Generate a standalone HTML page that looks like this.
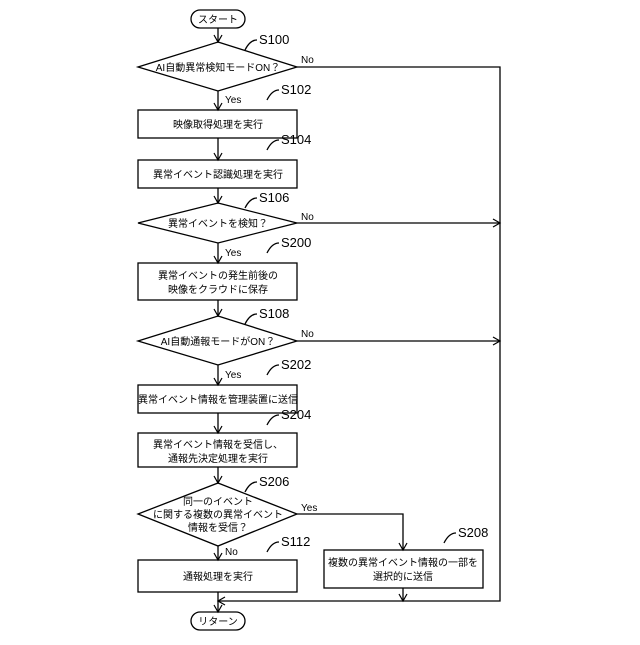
<!DOCTYPE html>
<html><head><meta charset="utf-8"><style>body{margin:0;background:#fff}</style></head><body>
<svg width="640" height="640" viewBox="0 0 640 640" xmlns="http://www.w3.org/2000/svg" font-family="'Liberation Sans','Noto Sans CJK JP',sans-serif">
<defs><marker id="a" markerWidth="10" markerHeight="10" refX="8" refY="5" orient="auto" markerUnits="userSpaceOnUse"><path d="M1,1 L8,5 L1,9" fill="none" stroke="#000" stroke-width="1.2"/></marker></defs>
<g fill="none" stroke="#000" stroke-width="1.3">
<rect x="191" y="10" width="54" height="18" rx="9"/>
<rect x="191" y="612" width="54" height="18" rx="9"/>
<polygon points="218,42 297,67 218,91 138,67"/>
<rect x="138" y="110" width="159" height="28"/>
<rect x="138" y="160" width="159" height="28"/>
<polygon points="218,203 297,223 218,243 138,223"/>
<rect x="138" y="263" width="159" height="37"/>
<polygon points="218,316 297,341 218,365 138,341"/>
<rect x="138" y="385" width="159" height="28"/>
<rect x="138" y="433" width="159" height="34"/>
<polygon points="218,483 297,514 218,546 138,514"/>
<rect x="138" y="560" width="159" height="32"/>
<rect x="324" y="550" width="159" height="38"/>
<path d="M218,28V42" marker-end="url(#a)"/>
<path d="M218,91V110" marker-end="url(#a)"/>
<path d="M218,138V160" marker-end="url(#a)"/>
<path d="M218,188V203" marker-end="url(#a)"/>
<path d="M218,243V263" marker-end="url(#a)"/>
<path d="M218,300V316" marker-end="url(#a)"/>
<path d="M218,365V385" marker-end="url(#a)"/>
<path d="M218,413V433" marker-end="url(#a)"/>
<path d="M218,467V483" marker-end="url(#a)"/>
<path d="M218,546V560" marker-end="url(#a)"/>
<path d="M218,592V612" marker-end="url(#a)"/>
<path d="M297,67H500V601H218" marker-end="url(#a)"/>
<path d="M297,223H500" marker-end="url(#a)"/>
<path d="M297,341H500" marker-end="url(#a)"/>
<path d="M297,514H403V550" marker-end="url(#a)"/>
<path d="M403,588V601" marker-end="url(#a)"/>
<path d="M245,50q5,-10 12,-10"/><path d="M267,100q5,-10 12,-10"/><path d="M267,150q5,-10 12,-10"/>
<path d="M245,208q5,-10 12,-10"/><path d="M267,253q5,-10 12,-10"/><path d="M245,324q5,-10 12,-10"/>
<path d="M267,375q5,-10 12,-10"/><path d="M267,425q5,-10 12,-10"/><path d="M245,492q5,-10 12,-10"/>
<path d="M267,552q5,-10 12,-10"/><path d="M444,543q5,-10 12,-10"/>
</g>
<g font-size="10" text-anchor="middle" fill="#000">
<text x="218" y="23">スタート</text>
<text x="218" y="625">リターン</text>
<text x="218" y="71">AI自動異常検知モードON？</text>
<text x="218" y="128">映像取得処理を実行</text>
<text x="218" y="178">異常イベント認識処理を実行</text>
<text x="218" y="227">異常イベントを検知？</text>
<text x="218" y="279">異常イベントの発生前後の</text>
<text x="218" y="293">映像をクラウドに保存</text>
<text x="218" y="345">AI自動通報モードがON？</text>
<text x="218" y="403">異常イベント情報を管理装置に送信</text>
<text x="218" y="448">異常イベント情報を受信し、</text>
<text x="218" y="462">通報先決定処理を実行</text>
<text x="218" y="505">同一のイベント</text>
<text x="218" y="518">に関する複数の異常イベント</text>
<text x="218" y="531">情報を受信？</text>
<text x="218" y="580">通報処理を実行</text>
<text x="403" y="566">複数の異常イベント情報の一部を</text>
<text x="403" y="580">選択的に送信</text>
</g>
<g font-size="10" fill="#000">
<text x="301" y="63">No</text><text x="301" y="220">No</text><text x="301" y="337">No</text>
<text x="225" y="103">Yes</text><text x="225" y="256">Yes</text><text x="225" y="378">Yes</text>
<text x="301" y="511">Yes</text><text x="225" y="555">No</text>
</g>
<g font-size="13" fill="#000">
<text x="259" y="44">S100</text><text x="281" y="94">S102</text><text x="281" y="144">S104</text>
<text x="259" y="202">S106</text><text x="281" y="247">S200</text><text x="259" y="318">S108</text>
<text x="281" y="369">S202</text><text x="281" y="419">S204</text><text x="259" y="486">S206</text>
<text x="281" y="546">S112</text><text x="458" y="537">S208</text>
</g>
</svg>
</body></html>
